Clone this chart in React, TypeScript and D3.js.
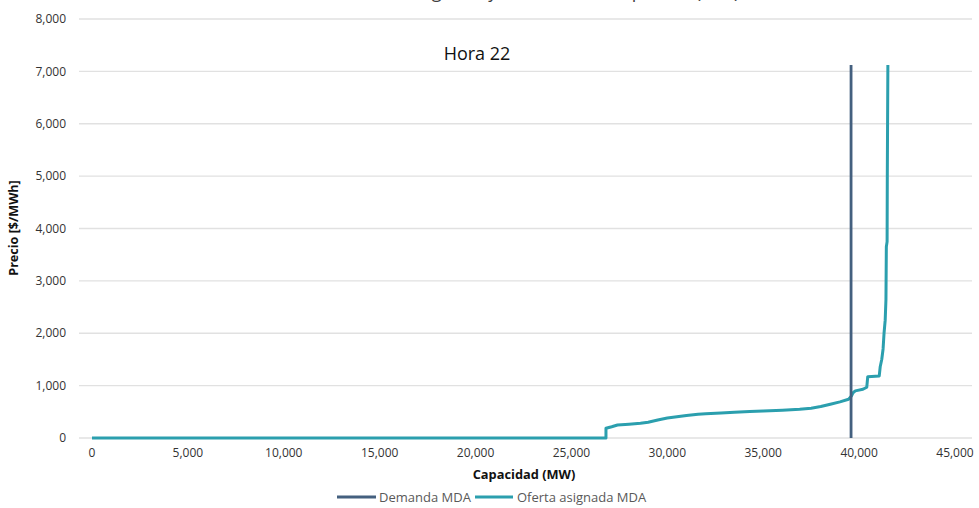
import React from "react";
import * as d3 from "d3";

const xTicks = [0, 5000, 10000, 15000, 20000, 25000, 30000, 35000, 40000, 45000];
const yTicks = [0, 1000, 2000, 3000, 4000, 5000, 6000, 7000, 8000];

const demandCap = [39580, 39580];
const demandPrice = [0, 7120];

const offerCap = [0, 26800, 26800, 27100, 27400, 28000, 28600, 29000, 29500, 30000, 30500, 31000, 31600, 32000, 32800, 33500, 34300, 35000, 36000, 36900, 37500, 38000, 38500, 39000, 39450, 39600, 39680, 39800, 40200, 40400, 40450, 41050, 41100, 41180, 41250, 41300, 41360, 41400, 41420, 41460, 41470, 41500];
const offerPrice = [0, 0, 185, 215, 248, 262, 280, 300, 345, 380, 405, 430, 455, 462, 478, 490, 505, 515, 530, 550, 570, 600, 645, 690, 740, 800, 860, 900, 930, 970, 1170, 1185, 1360, 1500, 1700, 2000, 2250, 2650, 3650, 3750, 5000, 7120];

const seriesNames = ["Demanda MDA", "Oferta asignada MDA"];
const colors = ["#44607f", "#2b9fae"];

const W = 979;
const H = 508;
const FONT = "'Open Sans', 'Noto Sans', sans-serif";

export default function App() {
  const x = d3.scaleLinear().domain([0, 45000]).range([92, 955]);
  const y = d3.scaleLinear().domain([0, 8000]).range([438, 19]);
  const fmt = d3.format(",");

  const line = d3
    .line<[number, number]>()
    .x((d) => x(d[0]))
    .y((d) => y(d[1]));

  const demand: [number, number][] = demandCap.map((c, i) => [c, demandPrice[i]]);
  const offer: [number, number][] = offerCap.map((c, i) => [c, offerPrice[i]]);

  return (
    <>
      <style>{`body{margin:0}`}</style>
      <svg width={W} height={H} style={{ display: "block", fontFamily: FONT }}>
        <rect x={0} y={0} width={W} height={H} fill="#ffffff" />
        <text x={350} y={-2} fontSize={18} fill="#404040">
          Oferta asignada y demanda MDA por día (MW)
        </text>
        {yTicks.map((t) => (
          <g key={"y" + t}>
            <line x1={79} x2={972} y1={y(t)} y2={y(t)} stroke="#e1e1e1" strokeWidth={1.3} />
            <text x={66} y={y(t)} dy="0.35em" textAnchor="end" fontSize={12} fill="#333">
              {fmt(t)}
            </text>
          </g>
        ))}
        {xTicks.map((t) => (
          <text key={"x" + t} x={x(t)} y={457} textAnchor="middle" fontSize={12} fill="#333">
            {fmt(t)}
          </text>
        ))}
        <text x={524} y={479} textAnchor="middle" fontSize={12.8} fontWeight="bold" fill="#111">
          Capacidad (MW)
        </text>
        <text
          transform="translate(18,228) rotate(-90)"
          textAnchor="middle"
          fontSize={12.6}
          fontWeight="bold"
          fill="#111"
        >
          Precio [$/MWh]
        </text>
        <text x={477} y={60} textAnchor="middle" fontSize={18} fill="#111">
          Hora 22
        </text>
        <path d={line(offer) || ""} fill="none" stroke={colors[1]} strokeWidth={3} strokeLinejoin="round" />
        <path d={line(demand) || ""} fill="none" stroke={colors[0]} strokeWidth={2.8} />
        <g>
          <line x1={337} x2={376} y1={497} y2={497} stroke={colors[0]} strokeWidth={2.8} />
          <text x={379} y={497} dy="0.35em" fontSize={13} fill="#595959">
            {seriesNames[0]}
          </text>
          <line x1={475} x2={513} y1={497} y2={497} stroke={colors[1]} strokeWidth={2.8} />
          <text x={517} y={497} dy="0.35em" fontSize={13} fill="#595959">
            {seriesNames[1]}
          </text>
        </g>
      </svg>
    </>
  );
}
